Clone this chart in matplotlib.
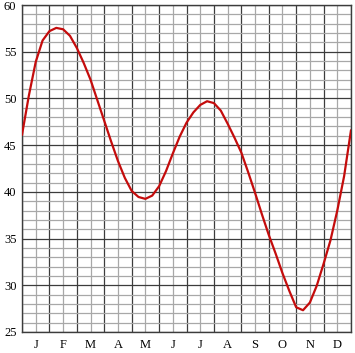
import matplotlib

matplotlib.use("Agg")
import matplotlib.pyplot as plt

# month labels, shown at the middle of each month
month_labels = ["J", "F", "M", "A", "M", "J", "J", "A", "S", "O", "N", "D"]

# time in months since start of January (quarter-month steps)
months_elapsed = [
    0.0, 0.25, 0.5, 0.75, 1.0, 1.25, 1.5, 1.75, 2.0, 2.25, 2.5, 2.75,
    3.0, 3.25, 3.5, 3.75, 4.0, 4.25, 4.5, 4.75, 5.0, 5.25, 5.5, 5.75,
    6.0, 6.25, 6.5, 6.75, 7.0, 7.25, 7.5, 7.75, 8.0, 8.25, 8.5, 8.75,
    9.0, 9.25, 9.5, 9.75, 10.0, 10.25, 10.5, 10.75, 11.0, 11.25, 11.5, 11.75,
    12.0,
]

# values
values = [
    46.1, 50.3, 53.9, 56.2, 57.2, 57.55, 57.4, 56.7, 55.4, 53.8, 52.0, 49.8,
    47.6, 45.4, 43.3, 41.5, 40.1, 39.45, 39.25, 39.6, 40.6, 42.2, 44.1, 45.9,
    47.4, 48.5, 49.3, 49.7, 49.5, 48.7, 47.3, 45.8, 44.2, 42.1, 39.9, 37.6,
    35.4, 33.4, 31.3, 29.4, 27.65, 27.33, 28.15, 29.95, 32.3, 34.8, 38.0, 41.7,
    46.6,
]

y_major = [25, 30, 35, 40, 45, 50, 55, 60]

fig = plt.figure(figsize=(3.55, 3.53), dpi=100)
ax = fig.add_axes([22 / 355, 1 - 332 / 353, 329 / 355, 327 / 353])

ax.plot(months_elapsed, values, color="#c40c0c", linewidth=1.6,
        solid_capstyle="round", solid_joinstyle="round", zorder=3)

ax.set_xlim(0, 12)
ax.set_ylim(25, 60)

ax.set_xticks(range(13))
ax.set_xticklabels([""] * 13)
ax.set_xticks([m + 0.5 for m in range(12)], minor=True)
ax.set_xticklabels(month_labels, minor=True)
ax.set_yticks(y_major)
ax.set_yticks(range(25, 61), minor=True)

ax.grid(which="major", color="#3c3c3c", linewidth=0.9)
ax.grid(which="minor", color="#a8a8a8", linewidth=0.9)
ax.set_axisbelow(True)

ax.tick_params(which="both", length=0)
ax.tick_params(axis="y", pad=4)
ax.tick_params(axis="x", which="minor", pad=5)
for label in ax.get_xticklabels(minor=True) + ax.get_yticklabels():
    label.set_fontfamily("Liberation Serif")
    label.set_fontsize(9)

for spine in ax.spines.values():
    spine.set_color("#3c3c3c")
    spine.set_linewidth(1.0)

fig.savefig("out.png", dpi=100)
